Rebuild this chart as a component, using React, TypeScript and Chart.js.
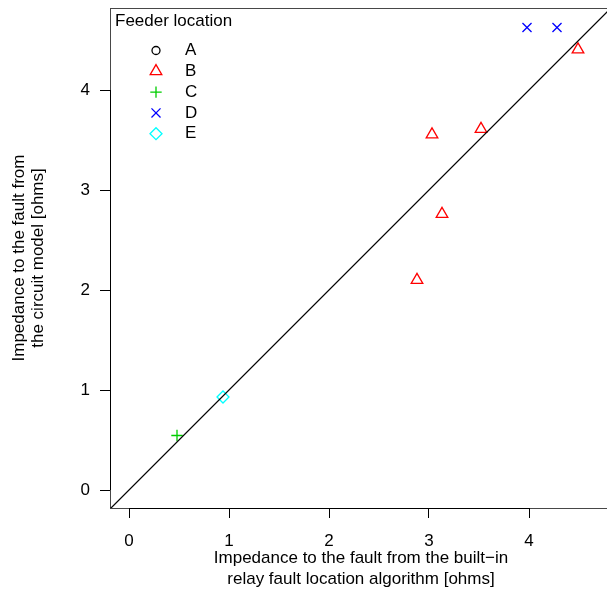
import React, { useEffect, useRef } from 'react';
import { Chart, registerables } from 'chart.js';
import { drawPoint } from 'chart.js/helpers';

Chart.register(...registerables);

// ---- data ----
const feederNames = ['A', 'B', 'C', 'D', 'E'];
const feederColors = ['#000000', '#FF0000', '#00CD00', '#0000FF', '#00FFFF'];
const feederStyles = ['circle', 'triangle', 'cross', 'crossRot', 'rectRot'];
const feederRadii = [4, 6.7, 5.7, 6.4, 6];

const aRelay: number[] = [];
const aModel: number[] = [];
const bRelay = [2.88, 3.03, 3.13, 3.52, 4.49];
const bModel = [2.1, 3.555, 2.76, 3.61, 4.405];
const cRelay = [0.48];
const cModel = [0.545];
const dRelay = [3.98, 4.28];
const dModel = [4.625, 4.625];
const eRelay = [0.94];
const eModel = [0.93];

const relaySeries = [aRelay, bRelay, cRelay, dRelay, eRelay];
const modelSeries = [aModel, bModel, cModel, dModel, eModel];

const refLine = [-1, 6];

const xTicks = [0, 1, 2, 3, 4];
const yTicks = [0, 1, 2, 3, 4];
const xRange = [-0.19, 4.94];
const yRange = [-0.18, 4.82];

const xTitle = ['Impedance to the fault from the built\u2212in', 'relay fault location algorithm [ohms]'];
const yTitle = ['Impedance to the fault from', 'the circuit model [ohms]'];
const legendTitle = 'Feeder location';

const FONT = "'Liberation Sans', Arial, Helvetica, sans-serif";
const FS = 17;

const decorPlugin = {
  id: 'decor',
  afterDraw(chart: any) {
    const { ctx, chartArea } = chart;
    const xs = chart.scales.x;
    const ys = chart.scales.y;
    ctx.save();
    // box
    ctx.strokeStyle = 'rgba(0,0,0,0.72)';
    ctx.lineWidth = 1;
    ctx.strokeRect(chartArea.left + 0.5, chartArea.top + 0.5, chartArea.right - chartArea.left, chartArea.bottom - chartArea.top);
    // axis lines from first to last tick
    ctx.strokeStyle = '#000';
    ctx.beginPath();
    ctx.moveTo(xs.getPixelForValue(xTicks[0]), chartArea.bottom + 0.5);
    ctx.lineTo(xs.getPixelForValue(xTicks[xTicks.length - 1]), chartArea.bottom + 0.5);
    ctx.moveTo(chartArea.left + 0.5, ys.getPixelForValue(yTicks[0]));
    ctx.lineTo(chartArea.left + 0.5, ys.getPixelForValue(yTicks[yTicks.length - 1]));
    ctx.stroke();

    // axis titles
    ctx.fillStyle = '#000';
    ctx.font = `${FS}px ${FONT}`;
    ctx.textAlign = 'center';
    ctx.textBaseline = 'alphabetic';
    ctx.fillText(xTitle[0], 361, 563);
    ctx.fillText(xTitle[1], 361, 584);
    ctx.save();
    ctx.translate(0, 258);
    ctx.rotate(-Math.PI / 2);
    ctx.fillText(yTitle[0], 0, 23.5);
    ctx.fillText(yTitle[1], 0, 42.5);
    ctx.restore();

    // legend
    ctx.textAlign = 'left';
    ctx.textBaseline = 'middle';
    ctx.fillText(legendTitle, 115, 21);
    for (let i = 0; i < feederNames.length; i++) {
      const ds = chart.data.datasets[i + 1];
      const yRow = 50.5 + i * 20.8;
      ctx.strokeStyle = ds.borderColor;
      ctx.fillStyle = 'rgba(0,0,0,0)';
      ctx.lineWidth = ds.borderWidth;
      drawPoint(ctx, { pointStyle: ds.pointStyle, radius: ds.pointRadius, rotation: 0, borderWidth: ds.borderWidth }, 156, yRow);
      ctx.fillStyle = '#000';
      ctx.fillText(ds.label, 185, yRow);
    }
    ctx.restore();
  },
};

export default function App() {
  const ref = useRef<HTMLCanvasElement | null>(null);
  useEffect(() => {
    if (!ref.current) return;
    const pointSets = feederNames.map((name, i) => ({
      type: 'scatter' as const,
      label: name,
      data: relaySeries[i].map((x, j) => ({ x, y: modelSeries[i][j] })),
      pointStyle: feederStyles[i],
      pointRadius: feederRadii[i],
      pointHoverRadius: feederRadii[i],
      borderColor: feederColors[i],
      backgroundColor: 'rgba(0,0,0,0)',
      borderWidth: 1.3,
      showLine: false,
    }));
    const chart = new Chart(ref.current, {
      type: 'scatter',
      data: {
        datasets: [
          {
            type: 'line' as const,
            label: 'ref',
            data: refLine.map((v) => ({ x: v, y: v })),
            borderColor: '#000',
            borderWidth: 1.2,
            pointRadius: 0,
            showLine: true,
            fill: false,
          } as any,
          ...pointSets,
        ],
      },
      options: {
        animation: false,
        responsive: false,
        maintainAspectRatio: false,
        layout: { autoPadding: false, padding: { top: 8, right: 17, left: 0, bottom: 0 } },
        plugins: { legend: { display: false }, tooltip: { enabled: false } },
        scales: {
          x: {
            type: 'linear',
            min: xRange[0],
            max: xRange[1],
            afterBuildTicks: (s: any) => { s.ticks = xTicks.map((v) => ({ value: v })); },
            afterFit: (s: any) => { s.height = 87; s.paddingLeft = 0; s.paddingRight = 0; },
            grid: { drawOnChartArea: false, drawTicks: true, tickLength: 10, color: '#000', lineWidth: 1 },
            border: { display: false },
            ticks: { color: '#000', font: { family: FONT, size: FS }, padding: 13, maxRotation: 0, autoSkip: false },
          },
          y: {
            type: 'linear',
            min: yRange[0],
            max: yRange[1],
            afterBuildTicks: (s: any) => { s.ticks = yTicks.map((v) => ({ value: v })); },
            afterFit: (s: any) => { s.width = 110; s.paddingTop = 0; s.paddingBottom = 0; },
            grid: { drawOnChartArea: false, drawTicks: true, tickLength: 10, color: '#000', lineWidth: 1 },
            border: { display: false },
            ticks: { color: '#000', font: { family: FONT, size: FS }, padding: 10, autoSkip: false },
          },
        },
      },
      plugins: [decorPlugin],
    });
    return () => chart.destroy();
  }, []);
  return (
    <div style={{ position: 'fixed', left: 0, top: 0, width: 607, height: 595, overflow: 'hidden', background: '#fff' }}>
      <canvas ref={ref} width={640} height={595} style={{ width: 640, height: 595, display: 'block' }} />
    </div>
  );
}
